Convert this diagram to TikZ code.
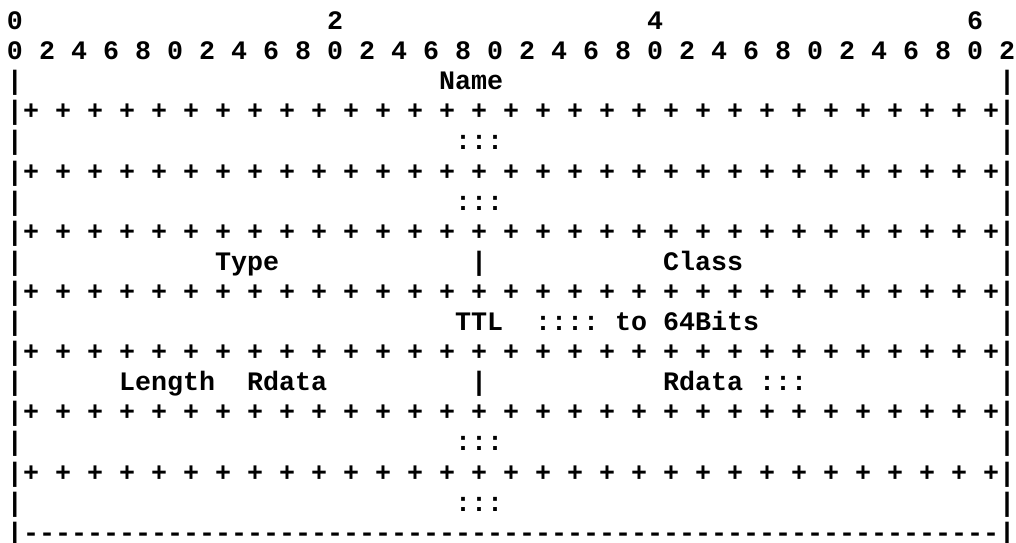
\documentclass[tikz,border=0pt]{standalone}
\usepackage{fontspec}
\setmonofont{Liberation Mono}
\tikzset{tt/.style={inner sep=0pt, outer sep=0pt, anchor=base west,
  font=\ttfamily\bfseries\fontsize{20}{24}\selectfont}}
\newcommand\tk[4]{\node[tt] (#1) at ({7+16*(#2)},{29.5+30.1*((#3)-1)}) {#4};}
\begin{document}
\begin{tikzpicture}[x=0.75pt,y=-0.75pt]
\fill[white] (0,0) rectangle (1016,542);
\useasboundingbox (0,0) rectangle (1016,542);
% scale header
\tk{h0}{0}{1}{0}
\tk{h2}{20}{1}{2}
\tk{h4}{40}{1}{4}
\tk{h6}{60}{1}{6}
\foreach \k in {0,...,31}{
  \pgfmathtruncatemacro\d{mod(2*\k,10)}
  \pgfmathtruncatemacro\c{2*\k}
  \tk{d\k}{\c}{2}{\d}
}
% side bars
\foreach \r in {3,...,18}{
  \tk{l\r}{0}{\r}{|}
  \tk{r\r}{62}{\r}{|}
}
% plus rows
\foreach \r in {4,6,...,16}{
  \foreach \c in {1,3,...,61}{
    \tk{p-\r-\c}{\c}{\r}{+}
  }
}
% bottom dashes
\foreach \c in {1,...,61}{
  \tk{m\c}{\c}{18}{-}
}
% field texts
\tk{name}{27}{3}{Name}
\tk{c5}{28}{5}{:::}
\tk{c7}{28}{7}{:::}
\tk{type}{13}{9}{Type}
\tk{s9}{29}{9}{|}
\tk{class}{41}{9}{Class}
\tk{ttl}{28}{11}{TTL}
\tk{c11}{33}{11}{::::}
\tk{to}{38}{11}{to}
\tk{bits}{41}{11}{64Bits}
\tk{len}{7}{13}{Length}
\tk{rd1}{15}{13}{Rdata}
\tk{s13}{29}{13}{|}
\tk{rd2}{41}{13}{Rdata}
\tk{c13}{47}{13}{:::}
\tk{c15}{28}{15}{:::}
\tk{c17}{28}{17}{:::}
\end{tikzpicture}
\end{document}
